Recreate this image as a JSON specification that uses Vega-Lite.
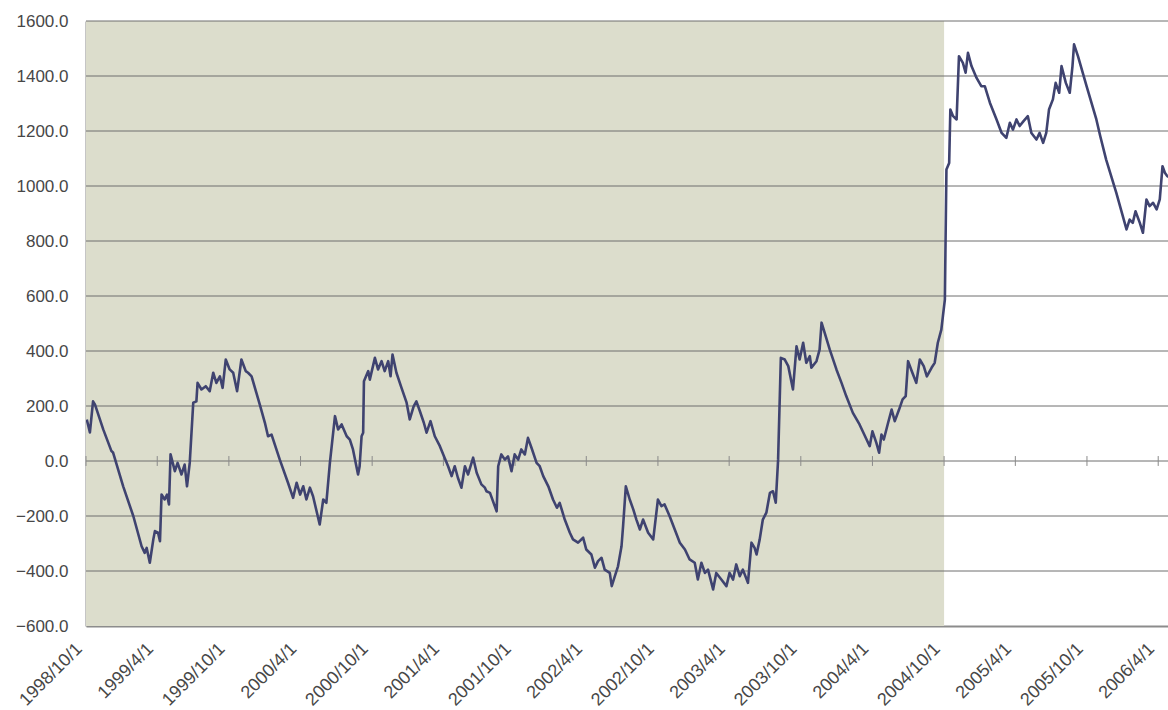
{
  "$schema": "https://vega.github.io/schema/vega-lite/v6.json",
  "width": 1082,
  "height": 605,
  "autosize": {"type": "none"},
  "padding": {"left": 86, "top": 21, "right": 0, "bottom": 84},
  "background": "#ffffff",
  "config": {
    "view": {"stroke": null},
    "axis": {"labelFont": "Liberation Sans", "labelColor": "#474747", "titleFont": "Liberation Sans"},
    "axisX": {
      "format": "%Y/%-m/%-d",
      "labelAngle": -45,
      "labelAlign": "right",
      "labelBaseline": "middle",
      "labelPadding": 20,
      "labelOffset": -7,
      "labelFontSize": 18,
      "labelOverlap": false,
      "labelBound": false,
      "labelFlush": false,
      "ticks": false,
      "grid": false,
      "domainColor": "#8c8c8c",
      "domainWidth": 2
    },
    "axisY": {
      "format": ".1f",
      "labelFontSize": 17,
      "labelPadding": 18,
      "ticks": false,
      "grid": false,
      "domainColor": "#8c8c8c",
      "domainWidth": 2
    }
  },
  "datasets": {
    "shade": [{"s": "1998-10-01", "e": "2004-10-01"}],
    "grid": [{"g": -400}, {"g": -200}, {"g": 0}, {"g": 200}, {"g": 400}, {"g": 600}, {"g": 800}, {"g": 1000}, {"g": 1200}, {"g": 1400}, {"g": 1600}],
    "ticks": [
      {"d": "1998-10-01"}, {"d": "1999-04-01"}, {"d": "1999-10-01"}, {"d": "2000-04-01"},
      {"d": "2000-10-01"}, {"d": "2001-04-01"}, {"d": "2001-10-01"}, {"d": "2002-04-01"},
      {"d": "2002-10-01"}, {"d": "2003-04-01"}, {"d": "2003-10-01"}, {"d": "2004-04-01"},
      {"d": "2004-10-01"}, {"d": "2005-04-01"}, {"d": "2005-10-01"}, {"d": "2006-04-01"}
    ],
    "series": [
      {"d": "1998-10-03", "v": 151}, {"d": "1998-10-11", "v": 104}, {"d": "1998-10-19", "v": 217}, {"d": "1998-10-24", "v": 205},
      {"d": "1998-11-14", "v": 115}, {"d": "1998-12-05", "v": 36}, {"d": "1998-12-09", "v": 31}, {"d": "1999-01-04", "v": -92},
      {"d": "1999-01-30", "v": -201}, {"d": "1999-02-20", "v": -310}, {"d": "1999-02-28", "v": -334}, {"d": "1999-03-05", "v": -316},
      {"d": "1999-03-13", "v": -370}, {"d": "1999-03-22", "v": -285}, {"d": "1999-03-26", "v": -255}, {"d": "1999-04-03", "v": -261},
      {"d": "1999-04-08", "v": -292}, {"d": "1999-04-12", "v": -122}, {"d": "1999-04-20", "v": -140}, {"d": "1999-04-26", "v": -122},
      {"d": "1999-05-01", "v": -158}, {"d": "1999-05-05", "v": 24}, {"d": "1999-05-16", "v": -37}, {"d": "1999-05-23", "v": -7},
      {"d": "1999-06-02", "v": -49}, {"d": "1999-06-10", "v": -13}, {"d": "1999-06-16", "v": -92}, {"d": "1999-06-23", "v": -7},
      {"d": "1999-07-02", "v": 212}, {"d": "1999-07-10", "v": 217}, {"d": "1999-07-13", "v": 284}, {"d": "1999-07-23", "v": 260},
      {"d": "1999-08-03", "v": 272}, {"d": "1999-08-13", "v": 254}, {"d": "1999-08-22", "v": 321}, {"d": "1999-08-30", "v": 284},
      {"d": "1999-09-08", "v": 308}, {"d": "1999-09-15", "v": 266}, {"d": "1999-09-23", "v": 369}, {"d": "1999-10-03", "v": 333},
      {"d": "1999-10-12", "v": 321}, {"d": "1999-10-22", "v": 254}, {"d": "1999-11-02", "v": 369}, {"d": "1999-11-13", "v": 327},
      {"d": "1999-11-19", "v": 321}, {"d": "1999-11-28", "v": 308}, {"d": "1999-12-19", "v": 205}, {"d": "2000-01-01", "v": 139},
      {"d": "2000-01-09", "v": 90}, {"d": "2000-01-18", "v": 96}, {"d": "2000-02-08", "v": 5}, {"d": "2000-02-29", "v": -79},
      {"d": "2000-03-13", "v": -134}, {"d": "2000-03-22", "v": -79}, {"d": "2000-03-31", "v": -122}, {"d": "2000-04-08", "v": -92},
      {"d": "2000-04-16", "v": -140}, {"d": "2000-04-25", "v": -97}, {"d": "2000-05-03", "v": -128}, {"d": "2000-05-20", "v": -231},
      {"d": "2000-05-29", "v": -140}, {"d": "2000-06-06", "v": -152}, {"d": "2000-06-15", "v": -7}, {"d": "2000-06-28", "v": 163},
      {"d": "2000-07-06", "v": 115}, {"d": "2000-07-15", "v": 133}, {"d": "2000-07-28", "v": 90}, {"d": "2000-08-05", "v": 78},
      {"d": "2000-08-13", "v": 42}, {"d": "2000-08-26", "v": -49}, {"d": "2000-08-30", "v": -19}, {"d": "2000-09-04", "v": 90},
      {"d": "2000-09-08", "v": 103}, {"d": "2000-09-10", "v": 290}, {"d": "2000-09-21", "v": 327}, {"d": "2000-09-25", "v": 296},
      {"d": "2000-10-08", "v": 375}, {"d": "2000-10-16", "v": 333}, {"d": "2000-10-25", "v": 363}, {"d": "2000-11-02", "v": 327},
      {"d": "2000-11-11", "v": 363}, {"d": "2000-11-17", "v": 308}, {"d": "2000-11-22", "v": 387}, {"d": "2000-12-02", "v": 321},
      {"d": "2000-12-15", "v": 266}, {"d": "2000-12-28", "v": 212}, {"d": "2001-01-05", "v": 151}, {"d": "2001-01-15", "v": 199},
      {"d": "2001-01-22", "v": 217}, {"d": "2001-01-31", "v": 181}, {"d": "2001-02-10", "v": 139}, {"d": "2001-02-17", "v": 103},
      {"d": "2001-02-27", "v": 145}, {"d": "2001-03-10", "v": 90}, {"d": "2001-03-23", "v": 54}, {"d": "2001-04-04", "v": 12},
      {"d": "2001-04-13", "v": -19}, {"d": "2001-04-22", "v": -55}, {"d": "2001-04-30", "v": -19}, {"d": "2001-05-08", "v": -61},
      {"d": "2001-05-17", "v": -97}, {"d": "2001-05-26", "v": -19}, {"d": "2001-06-03", "v": -49}, {"d": "2001-06-16", "v": 12},
      {"d": "2001-06-25", "v": -43}, {"d": "2001-07-07", "v": -85}, {"d": "2001-07-16", "v": -97}, {"d": "2001-07-20", "v": -110},
      {"d": "2001-07-29", "v": -116}, {"d": "2001-08-15", "v": -183}, {"d": "2001-08-19", "v": -19}, {"d": "2001-08-27", "v": 24},
      {"d": "2001-09-05", "v": 5}, {"d": "2001-09-13", "v": 17}, {"d": "2001-09-22", "v": -37}, {"d": "2001-09-30", "v": 24},
      {"d": "2001-10-09", "v": 5}, {"d": "2001-10-17", "v": 42}, {"d": "2001-10-26", "v": 24}, {"d": "2001-11-03", "v": 84},
      {"d": "2001-11-12", "v": 48}, {"d": "2001-11-25", "v": -7}, {"d": "2001-12-03", "v": -19}, {"d": "2001-12-12", "v": -55},
      {"d": "2001-12-25", "v": -92}, {"d": "2002-01-06", "v": -140}, {"d": "2002-01-16", "v": -170}, {"d": "2002-01-23", "v": -152},
      {"d": "2002-02-05", "v": -213}, {"d": "2002-02-18", "v": -261}, {"d": "2002-02-26", "v": -285}, {"d": "2002-03-11", "v": -297},
      {"d": "2002-03-24", "v": -279}, {"d": "2002-04-01", "v": -322}, {"d": "2002-04-14", "v": -340}, {"d": "2002-04-23", "v": -388},
      {"d": "2002-05-01", "v": -364}, {"d": "2002-05-10", "v": -352}, {"d": "2002-05-18", "v": -395}, {"d": "2002-05-31", "v": -407},
      {"d": "2002-06-05", "v": -455}, {"d": "2002-06-13", "v": -419}, {"d": "2002-06-21", "v": -383}, {"d": "2002-06-30", "v": -310},
      {"d": "2002-07-04", "v": -237}, {"d": "2002-07-11", "v": -92}, {"d": "2002-07-21", "v": -140}, {"d": "2002-07-30", "v": -176},
      {"d": "2002-08-07", "v": -213}, {"d": "2002-08-16", "v": -249}, {"d": "2002-08-24", "v": -213}, {"d": "2002-09-06", "v": -261},
      {"d": "2002-09-19", "v": -285}, {"d": "2002-09-23", "v": -237}, {"d": "2002-10-01", "v": -140}, {"d": "2002-10-10", "v": -164},
      {"d": "2002-10-18", "v": -158}, {"d": "2002-10-31", "v": -201}, {"d": "2002-11-13", "v": -249}, {"d": "2002-11-26", "v": -297},
      {"d": "2002-12-09", "v": -322}, {"d": "2002-12-21", "v": -358}, {"d": "2003-01-03", "v": -370}, {"d": "2003-01-11", "v": -431},
      {"d": "2003-01-20", "v": -370}, {"d": "2003-01-29", "v": -407}, {"d": "2003-02-06", "v": -395}, {"d": "2003-02-19", "v": -467},
      {"d": "2003-02-27", "v": -407}, {"d": "2003-03-12", "v": -431}, {"d": "2003-03-25", "v": -455}, {"d": "2003-04-02", "v": -407},
      {"d": "2003-04-11", "v": -431}, {"d": "2003-04-19", "v": -376}, {"d": "2003-04-28", "v": -419}, {"d": "2003-05-06", "v": -395},
      {"d": "2003-05-19", "v": -443}, {"d": "2003-05-28", "v": -297}, {"d": "2003-06-05", "v": -316}, {"d": "2003-06-10", "v": -340},
      {"d": "2003-06-18", "v": -285}, {"d": "2003-06-26", "v": -213}, {"d": "2003-07-05", "v": -188}, {"d": "2003-07-14", "v": -116},
      {"d": "2003-07-22", "v": -110}, {"d": "2003-07-29", "v": -152}, {"d": "2003-08-04", "v": 5}, {"d": "2003-08-11", "v": 375},
      {"d": "2003-08-21", "v": 369}, {"d": "2003-08-30", "v": 345}, {"d": "2003-09-11", "v": 260}, {"d": "2003-09-20", "v": 417},
      {"d": "2003-09-28", "v": 369}, {"d": "2003-10-07", "v": 430}, {"d": "2003-10-15", "v": 357}, {"d": "2003-10-24", "v": 381},
      {"d": "2003-10-28", "v": 339}, {"d": "2003-11-10", "v": 363}, {"d": "2003-11-18", "v": 405}, {"d": "2003-11-23", "v": 503},
      {"d": "2003-12-01", "v": 466}, {"d": "2003-12-14", "v": 405}, {"d": "2003-12-31", "v": 333}, {"d": "2004-01-13", "v": 284},
      {"d": "2004-01-25", "v": 236}, {"d": "2004-02-11", "v": 175}, {"d": "2004-02-28", "v": 133}, {"d": "2004-03-17", "v": 78},
      {"d": "2004-03-25", "v": 54}, {"d": "2004-04-01", "v": 108}, {"d": "2004-04-11", "v": 66}, {"d": "2004-04-18", "v": 30},
      {"d": "2004-04-24", "v": 96}, {"d": "2004-04-30", "v": 78}, {"d": "2004-05-11", "v": 139}, {"d": "2004-05-20", "v": 187},
      {"d": "2004-05-28", "v": 145}, {"d": "2004-06-08", "v": 187}, {"d": "2004-06-17", "v": 224}, {"d": "2004-06-25", "v": 236},
      {"d": "2004-07-01", "v": 363}, {"d": "2004-07-12", "v": 321}, {"d": "2004-07-22", "v": 284}, {"d": "2004-07-31", "v": 369},
      {"d": "2004-08-10", "v": 345}, {"d": "2004-08-18", "v": 308}, {"d": "2004-08-30", "v": 339}, {"d": "2004-09-07", "v": 357},
      {"d": "2004-09-15", "v": 430}, {"d": "2004-09-24", "v": 478}, {"d": "2004-09-28", "v": 527}, {"d": "2004-10-03", "v": 587},
      {"d": "2004-10-04", "v": 708}, {"d": "2004-10-07", "v": 1060}, {"d": "2004-10-14", "v": 1084}, {"d": "2004-10-17", "v": 1278},
      {"d": "2004-10-24", "v": 1254}, {"d": "2004-11-02", "v": 1242}, {"d": "2004-11-08", "v": 1472}, {"d": "2004-11-18", "v": 1448},
      {"d": "2004-11-25", "v": 1412}, {"d": "2004-12-01", "v": 1484}, {"d": "2004-12-10", "v": 1436}, {"d": "2004-12-23", "v": 1393},
      {"d": "2005-01-04", "v": 1363}, {"d": "2005-01-13", "v": 1363}, {"d": "2005-01-26", "v": 1303}, {"d": "2005-02-12", "v": 1242},
      {"d": "2005-02-25", "v": 1193}, {"d": "2005-03-09", "v": 1175}, {"d": "2005-03-18", "v": 1230}, {"d": "2005-03-26", "v": 1205},
      {"d": "2005-04-04", "v": 1242}, {"d": "2005-04-12", "v": 1218}, {"d": "2005-04-22", "v": 1236}, {"d": "2005-05-03", "v": 1254},
      {"d": "2005-05-12", "v": 1193}, {"d": "2005-05-25", "v": 1169}, {"d": "2005-06-02", "v": 1193}, {"d": "2005-06-11", "v": 1157},
      {"d": "2005-06-19", "v": 1193}, {"d": "2005-06-26", "v": 1278}, {"d": "2005-07-06", "v": 1315}, {"d": "2005-07-13", "v": 1375},
      {"d": "2005-07-22", "v": 1339}, {"d": "2005-07-28", "v": 1436}, {"d": "2005-08-08", "v": 1375}, {"d": "2005-08-18", "v": 1339},
      {"d": "2005-08-25", "v": 1436}, {"d": "2005-08-29", "v": 1515}, {"d": "2005-09-08", "v": 1472}, {"d": "2005-09-30", "v": 1363},
      {"d": "2005-10-25", "v": 1242}, {"d": "2005-11-04", "v": 1181}, {"d": "2005-11-19", "v": 1096}, {"d": "2005-12-15", "v": 975},
      {"d": "2006-01-10", "v": 842}, {"d": "2006-01-18", "v": 878}, {"d": "2006-01-26", "v": 866}, {"d": "2006-02-02", "v": 908},
      {"d": "2006-02-13", "v": 866}, {"d": "2006-02-21", "v": 830}, {"d": "2006-03-02", "v": 951}, {"d": "2006-03-10", "v": 927},
      {"d": "2006-03-19", "v": 939}, {"d": "2006-03-28", "v": 915}, {"d": "2006-04-05", "v": 951}, {"d": "2006-04-12", "v": 1072},
      {"d": "2006-04-18", "v": 1048}, {"d": "2006-04-24", "v": 1036}, {"d": "2006-05-02", "v": 1030}
    ]
  },
  "layer": [
    {
      "data": {"name": "shade"},
      "mark": {"type": "rect", "color": "#dcddcc", "clip": true},
      "encoding": {
        "x": {"field": "s", "type": "temporal", "title": null,
              "scale": {"type": "utc", "domain": [{"year": 1998, "month": 10, "date": 1, "utc": true}, {"year": 2006, "month": 4, "date": 26, "utc": true}]},
              "axis": {
                "values": [
                  {"year": 1998, "month": 10, "date": 1, "utc": true}, {"year": 1999, "month": 4, "date": 1, "utc": true},
                  {"year": 1999, "month": 10, "date": 1, "utc": true}, {"year": 2000, "month": 4, "date": 1, "utc": true},
                  {"year": 2000, "month": 10, "date": 1, "utc": true}, {"year": 2001, "month": 4, "date": 1, "utc": true},
                  {"year": 2001, "month": 10, "date": 1, "utc": true}, {"year": 2002, "month": 4, "date": 1, "utc": true},
                  {"year": 2002, "month": 10, "date": 1, "utc": true}, {"year": 2003, "month": 4, "date": 1, "utc": true},
                  {"year": 2003, "month": 10, "date": 1, "utc": true}, {"year": 2004, "month": 4, "date": 1, "utc": true},
                  {"year": 2004, "month": 10, "date": 1, "utc": true}, {"year": 2005, "month": 4, "date": 1, "utc": true},
                  {"year": 2005, "month": 10, "date": 1, "utc": true}, {"year": 2006, "month": 4, "date": 1, "utc": true}
                ]
              }},
        "x2": {"field": "e"},
        "y": {"datum": -600, "type": "quantitative", "title": null,
              "scale": {"domain": [-600, 1600], "nice": false, "zero": false},
              "axis": {"values": [-600, -400, -200, 0, 200, 400, 600, 800, 1000, 1200, 1400, 1600]}},
        "y2": {"datum": 1600}
      }
    },
    {
      "data": {"name": "grid"},
      "mark": {"type": "rule", "color": "#6f6f6f", "strokeWidth": 1},
      "encoding": {
        "y": {"field": "g", "type": "quantitative", "title": null}
      }
    },
    {
      "data": {"name": "ticks"},
      "mark": {"type": "rule", "color": "#8a8a8a", "strokeWidth": 1},
      "encoding": {
        "x": {"field": "d", "type": "temporal", "title": null},
        "y": {"datum": -18, "type": "quantitative", "title": null},
        "y2": {"datum": 18}
      }
    },
    {
      "data": {"name": "series"},
      "mark": {"type": "line", "color": "#3f4370", "strokeWidth": 2.6, "clip": true, "strokeJoin": "round"},
      "encoding": {
        "x": {"field": "d", "type": "temporal", "title": null},
        "y": {"field": "v", "type": "quantitative", "title": null}
      }
    }
  ]
}
